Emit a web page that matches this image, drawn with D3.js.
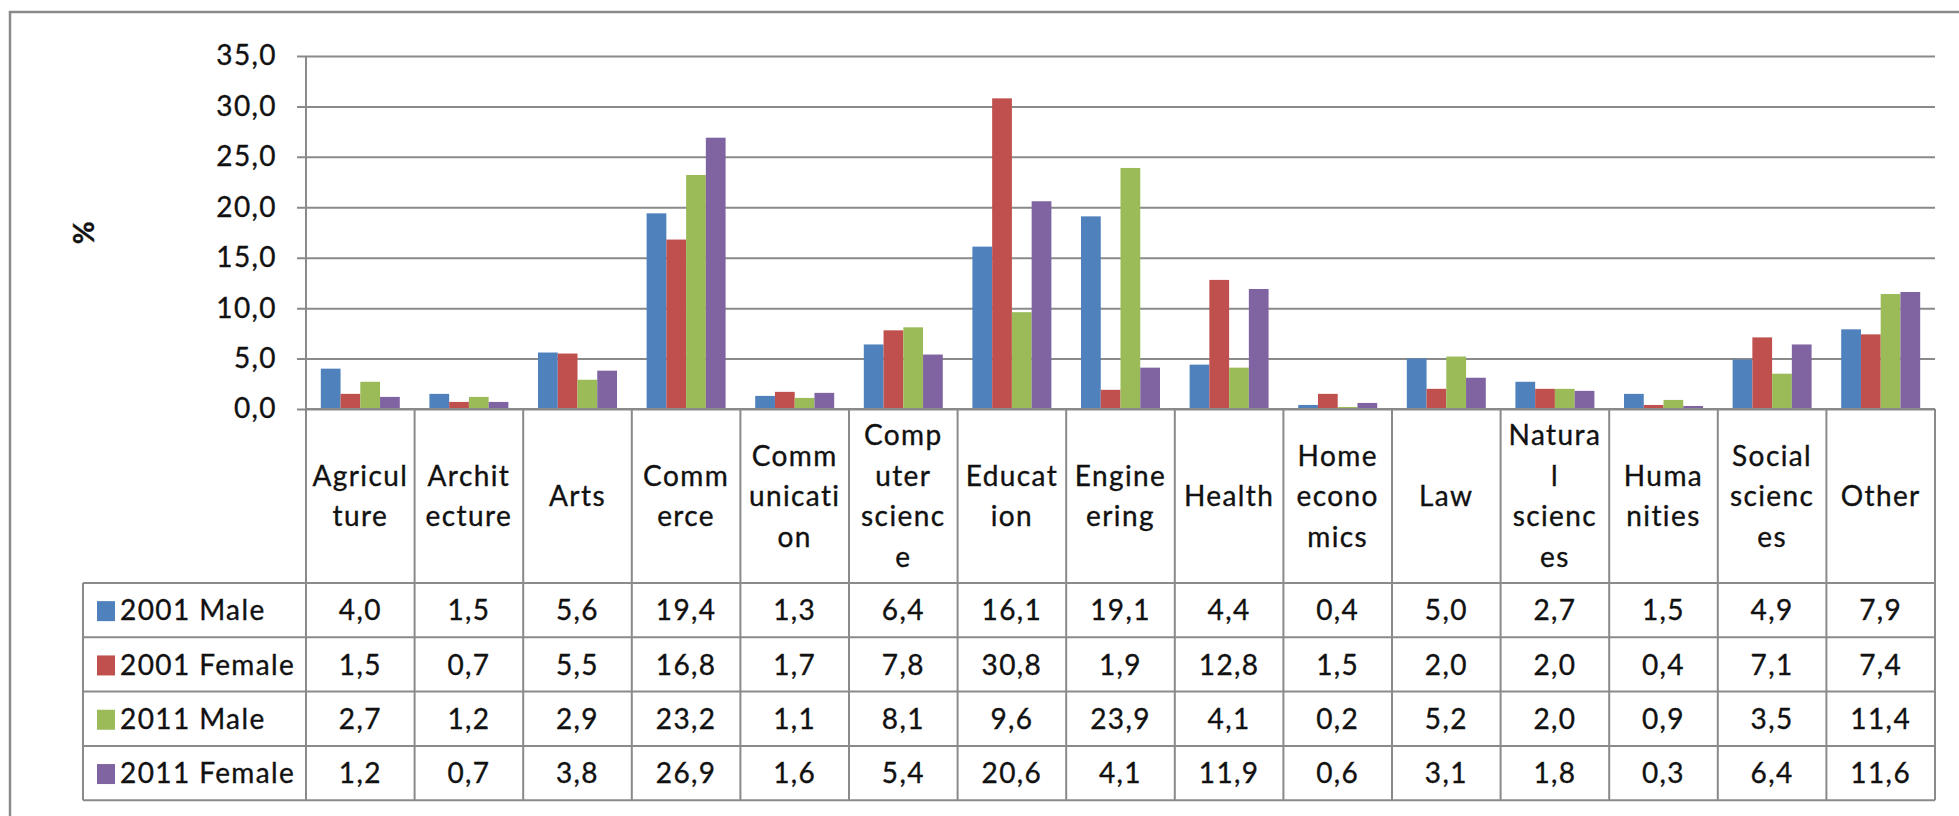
<!DOCTYPE html>
<html>
<head>
<meta charset="utf-8">
<script src="https://cdnjs.cloudflare.com/ajax/libs/d3/7.8.5/d3.min.js"></script>
<style>
  body { margin: 0; background: #fff; }
  svg text { font-family: Lato, "Open Sans", sans-serif; fill: #111; letter-spacing: 1.4px; stroke: #111; stroke-width: 0.35px; }
</style>
</head>
<body>
<svg id="chart"></svg>
<script>
// categories, and how Excel wrapped them in the data table
var categories = ["Agriculture", "Architecture", "Arts", "Commerce", "Communication",
  "Computer science", "Education", "Engineering", "Health", "Home economics",
  "Law", "Natural sciences", "Humanities", "Social sciences", "Other"];
var categoryLines = [["Agricul", "ture"], ["Archit", "ecture"], ["Arts"], ["Comm", "erce"],
  ["Comm", "unicati", "on"], ["Comp", "uter", "scienc", "e"], ["Educat", "ion"],
  ["Engine", "ering"], ["Health"], ["Home", "econo", "mics"], ["Law"],
  ["Natura", "l", "scienc", "es"], ["Huma", "nities"], ["Social", "scienc", "es"], ["Other"]];

var seriesNames = ["2001 Male", "2001 Female", "2011 Male", "2011 Female"];
var seriesColors = ["#4f81bd", "#c0504d", "#9bbb59", "#8064a2"];

var male2001   = [4.0, 1.5, 5.6, 19.4, 1.3, 6.4, 16.1, 19.1, 4.4, 0.4, 5.0, 2.7, 1.5, 4.9, 7.9];
var female2001 = [1.5, 0.7, 5.5, 16.8, 1.7, 7.8, 30.8, 1.9, 12.8, 1.5, 2.0, 2.0, 0.4, 7.1, 7.4];
var male2011   = [2.7, 1.2, 2.9, 23.2, 1.1, 8.1, 9.6, 23.9, 4.1, 0.2, 5.2, 2.0, 0.9, 3.5, 11.4];
var female2011 = [1.2, 0.7, 3.8, 26.9, 1.6, 5.4, 20.6, 4.1, 11.9, 0.6, 3.1, 1.8, 0.3, 6.4, 11.6];
var seriesValues = [male2001, female2001, male2011, female2011];

var yTicks = [0, 5, 10, 15, 20, 25, 30, 35];

var W = 1959, H = 816;
var plotLeft = 306, plotRight = 1935, plotTop = 56, axisY = 409;
var headerBottom = 583, rowH = 54.3;
var tableLeft = 83;
var gridColor = "#8a8a8a";
var fontSize = 28;

var locale = d3.formatLocale({decimal: ",", thousands: ".", grouping: [3], currency: ["", ""]});
var fmt = locale.format(".1f");

var svg = d3.select("#chart")
  .attr("width", W)
  .attr("height", H);

svg.append("rect")
  .attr("width", W).attr("height", H)
  .attr("fill", "#fff");

// outer chart border (right and bottom fall outside the picture)
svg.append("rect")
  .attr("x", 10).attr("y", 12)
  .attr("width", 2000).attr("height", 900)
  .attr("fill", "none")
  .attr("stroke", gridColor)
  .attr("stroke-width", 2.5);

var x0 = d3.scaleBand()
  .domain(categories)
  .range([plotLeft, plotRight]);

var x1 = d3.scaleBand()
  .domain(seriesNames)
  .range([0, x0.bandwidth()])
  .paddingInner(0)
  .paddingOuter(0.75);

var y = d3.scaleLinear()
  .domain([0, 35])
  .range([axisY, plotTop]);

// gridlines + tick labels
var yAxis = d3.axisLeft(y)
  .tickValues(yTicks)
  .tickFormat(fmt)
  .tickSizeInner(-(plotRight - plotLeft + 9))
  .tickSizeOuter(0)
  .tickPadding(20);

var gy = svg.append("g")
  .attr("transform", "translate(" + (plotLeft - 9) + ",0)")
  .call(yAxis);
gy.select(".domain").remove();
gy.selectAll("line")
  .attr("stroke", gridColor)
  .attr("stroke-width", 2);
gy.selectAll("text")
  .attr("fill", "#111")
  .style("font-family", "Lato, sans-serif")
  .style("font-size", fontSize + "px");

svg.append("line")
  .attr("x1", plotLeft).attr("x2", plotLeft)
  .attr("y1", plotTop).attr("y2", axisY)
  .attr("stroke", gridColor)
  .attr("stroke-width", 2);

svg.append("text")
  .attr("transform", "translate(94,232) rotate(-90)")
  .attr("text-anchor", "middle")
  .style("font-size", fontSize + "px")
  .style("font-weight", "bold")
  .text("%");

// bars
var bars = [];
categories.forEach(function(c, i) {
  seriesNames.forEach(function(s, j) {
    bars.push({cat: c, series: s, value: seriesValues[j][i], color: seriesColors[j]});
  });
});

svg.append("g")
  .selectAll("rect")
  .data(bars)
  .enter().append("rect")
    .attr("x", function(d) { return x0(d.cat) + x1(d.series); })
    .attr("y", function(d) { return y(d.value); })
    .attr("width", x1.bandwidth())
    .attr("height", function(d) { return axisY - y(d.value); })
    .attr("fill", function(d) { return d.color; });

// data table
var table = svg.append("g");
var rowTops = seriesNames.map(function(s, j) { return headerBottom + j * rowH; });
var tableBottom = headerBottom + seriesNames.length * rowH;

// vertical column lines
var colEdges = categories.map(function(c) { return x0(c); }).concat([plotRight]);
table.selectAll(".vcol")
  .data(colEdges)
  .enter().append("line")
    .attr("x1", function(d) { return d; })
    .attr("x2", function(d) { return d; })
    .attr("y1", axisY)
    .attr("y2", tableBottom)
    .attr("stroke", gridColor)
    .attr("stroke-width", 2);

table.append("line")
  .attr("x1", tableLeft).attr("x2", tableLeft)
  .attr("y1", headerBottom).attr("y2", tableBottom)
  .attr("stroke", gridColor)
  .attr("stroke-width", 2);

// horizontal lines
table.selectAll(".hrow")
  .data(rowTops.concat([tableBottom]))
  .enter().append("line")
    .attr("x1", tableLeft)
    .attr("x2", plotRight)
    .attr("y1", function(d) { return d; })
    .attr("y2", function(d) { return d; })
    .attr("stroke", gridColor)
    .attr("stroke-width", 2);

// x-axis line
table.append("line")
  .attr("x1", plotLeft).attr("x2", plotRight)
  .attr("y1", axisY).attr("y2", axisY)
  .attr("stroke", gridColor)
  .attr("stroke-width", 2);

// category headers
var lineGap = 40.5;
var headerMid = (axisY + headerBottom) / 2;
categories.forEach(function(c, i) {
  var lines = categoryLines[i];
  var cx = x0(c) + x0.bandwidth() / 2;
  var first = headerMid - (lines.length - 1) * lineGap / 2;
  var t = table.append("text")
    .attr("text-anchor", "middle")
    .style("font-size", fontSize + "px");
  lines.forEach(function(l, k) {
    t.append("tspan")
      .attr("x", cx)
      .attr("y", first + k * lineGap)
      .attr("dy", "0.36em")
      .text(l);
  });
});

// legend keys + names
seriesNames.forEach(function(s, j) {
  var cy = rowTops[j] + rowH / 2;
  table.append("rect")
    .attr("x", 97).attr("y", cy - 9)
    .attr("width", 18).attr("height", 20)
    .attr("fill", seriesColors[j]);
  table.append("text")
    .attr("x", 120)
    .attr("y", cy)
    .attr("dy", "0.36em")
    .style("font-size", fontSize + "px")
    .text(s);
});

// values
seriesValues.forEach(function(vals, j) {
  var cy = rowTops[j] + rowH / 2;
  table.selectAll(".v" + j)
    .data(vals)
    .enter().append("text")
      .attr("x", function(d, i) { return x0(categories[i]) + x0.bandwidth() / 2; })
      .attr("y", cy)
      .attr("dy", "0.36em")
      .attr("text-anchor", "middle")
      .style("font-size", fontSize + "px")
      .text(function(d) { return fmt(d); });
});
</script>
</body>
</html>
